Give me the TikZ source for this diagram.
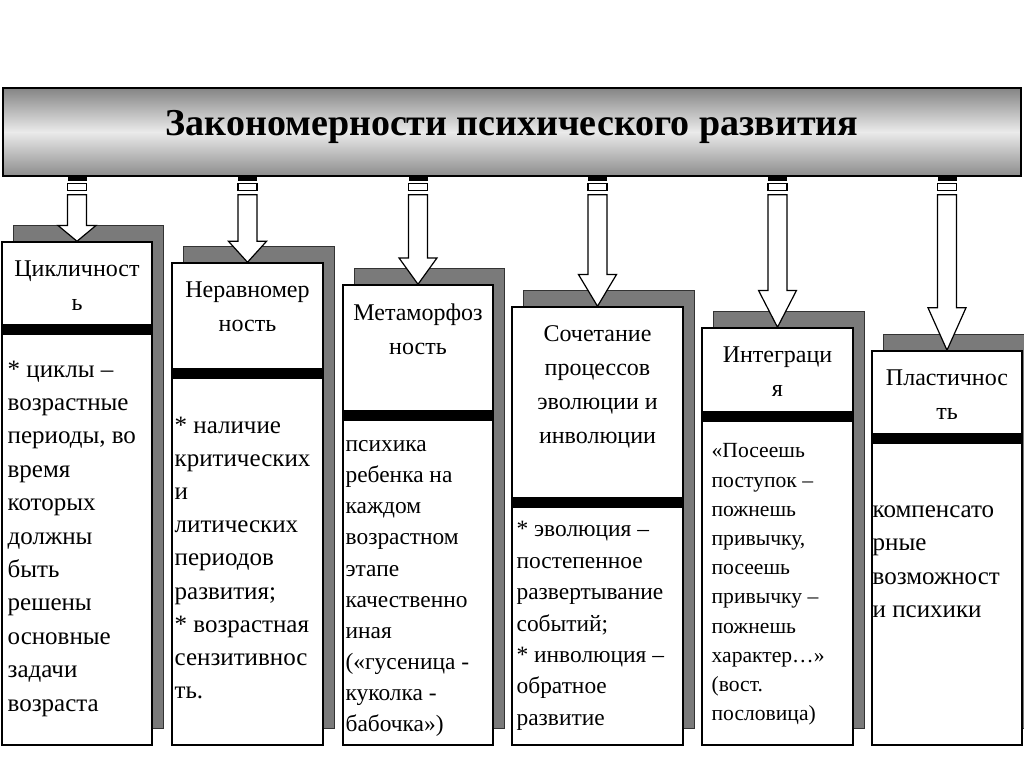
\documentclass[tikz,border=0pt]{standalone}
\usepackage{fontspec}
\setmainfont{Liberation Serif}
\usetikzlibrary{calc,fit}

\tikzset{
  colbox/.style={draw=black, line width=0.75pt, fill=white, inner sep=0pt},
  shadowbox/.style={fill=black!52, draw=black!80, line width=0.5pt},
  band/.style={fill=black},
  headtext/.style={align=center, inner sep=0pt, anchor=north,
    font=\fontsize{12}{17}\selectfont, execute at begin node=\strut},
  bodytext/.style={align=left, inner sep=0pt, anchor=north west,
    font=\fontsize{12.5}{16.7}\selectfont, execute at begin node=\strut},
  hollow/.style={draw=black, fill=white, line width=0.6pt}
}

% hollow block arrow from the title bar down to a box
\newcommand\blockarrow[1]{%
  \path (title.south -| #1.north) coordinate (top)
        ($(top)!0.755!(#1.north)$) coordinate (neck);
  \fill[black] ($(top)+(-9.5,0)$) rectangle ($(top)+(9.5,4)$);
  \draw[hollow] ($(top)+(-9.5,7)$) rectangle ($(top)+(9.5,14)$);
  \draw[hollow] ($(top)+(-9.5,18)$) -- ($(neck)+(-9.5,0)$) -- ($(neck)+(-19,0)$)
    -- (#1.north) -- ($(neck)+(19,0)$) -- ($(neck)+(9.5,0)$)
    -- ($(top)+(9.5,18)$) -- cycle;
}

\begin{document}
\begin{tikzpicture}[x=0.5pt, y=-0.5pt]
  \useasboundingbox (0,0) rectangle (1024,768);

  % title bar
  \node[fit={(3,88) (1021,176)}, inner sep=0pt, draw=black, line width=0.8pt,
        top color=black!48, bottom color=black!45, middle color=black!8] (title) {};
  \node[font=\fontsize{19}{22}\bfseries\selectfont] (ttl) at (512,127)
    {Закономерности психического развития};

  % boxes with shadow and black band
  \foreach \n/\l/\r/\t/\s in {1/2/152/242/324, 2/172/323/263/368, 3/343/493/285/410,
                              4/512/683/307/497, 5/702/853/328/411, 6/872/1022/351/433}{
    \filldraw[shadowbox] (\l+11,\t-17) rectangle (\r+11,728);
    \node[colbox, fit={(\l,\t) (\r,745)}] (b\n) {};
    \fill[band] (\l,\s) rectangle (\r,\s+11);
  }

  % headings
  \foreach \n/\txt in {1/{Цикличност\\ь}, 2/{Неравномер\\ность}, 3/{Метаморфоз\\ность},
                       4/{Сочетание\\процессов\\эволюции и\\инволюции},
                       5/{Интеграци\\я}, 6/{Пластичнос\\ть}}{
    \node[headtext] (h\n) at ($(b\n.north)+(0,19)$) {\txt};
  }

  % contents
  \node[bodytext] (t1) at ($(b1.north west)+(6,119)$)
    {* циклы –\\возрастные\\периоды, во\\время\\которых\\должны\\быть\\решены\\основные\\задачи\\возраста};
  \node[bodytext, font=\fontsize{12.5}{16.6}\selectfont] (t2) at ($(b2.north west)+(3,154)$)
    {* наличие\\критических\\и\\литических\\периодов\\развития;\\* возрастная\\сензитивнос\\ть.};
  \node[bodytext, font=\fontsize{11.7}{15.55}\selectfont] (t3) at ($(b3.north west)+(3,156)$)
    {психика\\ребенка на\\каждом\\возрастном\\этапе\\качественно\\иная\\(«гусеница -\\куколка -\\бабочка»)};
  \node[bodytext, font=\fontsize{11.7}{15.7}\selectfont] (t4) at ($(b4.north west)+(5,215)$)
    {* эволюция –\\постепенное\\развертывание\\событий;\\* инволюция –\\обратное\\развитие};
  \node[bodytext, font=\fontsize{10.8}{14.6}\selectfont] (t5) at ($(b5.north west)+(10,116)$)
    {«Посеешь\\поступок –\\пожнешь\\привычку,\\посеешь\\привычку –\\пожнешь\\характер…»\\(вост.\\пословица)};
  \node[bodytext] (t6) at ($(b6.north west)+(1,155)$)
    {компенсато\\рные\\возможност\\и психики};

  % arrows
  \foreach \n in {1,...,6}{
    \blockarrow{b\n}
  }
\end{tikzpicture}
\end{document}
